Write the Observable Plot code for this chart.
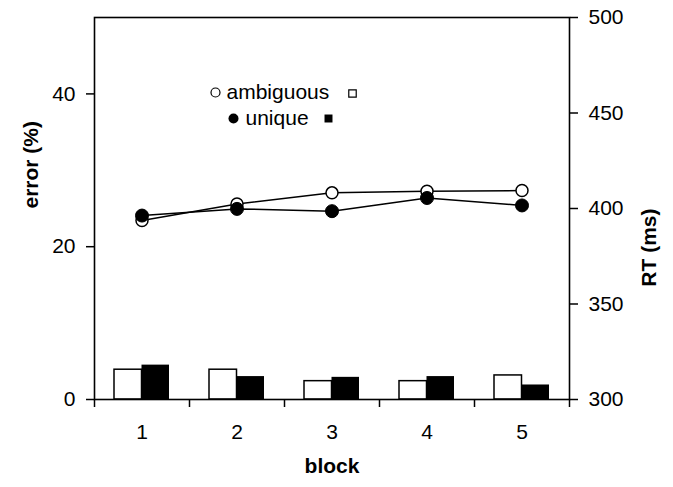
<!DOCTYPE html>
<html><head><meta charset="utf-8">
<script src="https://cdn.jsdelivr.net/npm/d3@7"></script>
<script src="https://cdn.jsdelivr.net/npm/@observablehq/plot@0.6"></script>
<style>body{margin:0;background:#fff}</style>
</head><body><div id="chart"></div>
<script>
const blocks = [1, 2, 3, 4, 5];
const errorAmbiguous = [3.9, 3.9, 2.4, 2.4, 3.15];
const errorUnique = [4.5, 3.0, 2.9, 3.0, 1.9];
const rtAmbiguous = [393.7, 402.4, 408.2, 409.0, 409.4];
const rtUnique = [396.3, 399.8, 398.6, 405.5, 401.6];
const errorTicks = [0, 20, 40];
const rtTicks = [300, 350, 400, 450, 500];
const errorDomain = [0, 50];
const rtDomain = [300, 500];
const legendLabels = ["ambiguous", "unique"];
const xTitle = "block", yTitleLeft = "error (%)", yTitleRight = "RT (ms)";

const rtToErr = d3.scaleLinear().domain(rtDomain).range(errorDomain);
const rows = blocks.map((b, i) => ({
  block: b, errA: errorAmbiguous[i], errU: errorUnique[i], rtA: rtAmbiguous[i], rtU: rtUnique[i]
}));

const font = "'Liberation Sans', Arial, sans-serif";
const FS = 21;
const plot = Plot.plot({
  width: 673, height: 487,
  marginLeft: 94, marginRight: 104, marginTop: 17, marginBottom: 88,
  style: {fontFamily: font, fontSize: FS + "px", color: "#000", background: "#fff"},
  x: {type: "band", domain: blocks, padding: 0},
  y: {domain: errorDomain},
  marks: [
    Plot.barY(rows, {x: "block", y: "errA", fill: "white", stroke: "black", strokeWidth: 1.5, insetLeft: 20, insetRight: 47.5}),
    Plot.barY(rows, {x: "block", y: "errU", fill: "black", insetLeft: 47.5, insetRight: 20}),
    Plot.frame({stroke: "black", strokeWidth: 1.6}),
    Plot.axisY({ticks: errorTicks, tickSize: 8, tickPadding: 11, strokeWidth: 1.5, label: null}),
    Plot.axisY({anchor: "right", ticks: rtTicks.map(rtToErr), tickFormat: d => Math.round(rtToErr.invert(d)), tickSize: 8, tickPadding: 11, strokeWidth: 1.5, label: null}),
    Plot.axisX({tickSize: 8, dx: -47.5, strokeWidth: 1.5, tickFormat: () => "", label: null}),
    Plot.axisX({ticks: [5], tickSize: 8, dx: 47.5, strokeWidth: 1.5, tickFormat: () => "", label: null}),
    Plot.axisX({tickSize: 0, tickPadding: 25, label: null}),
    Plot.line(rows, {x: "block", y: d => rtToErr(d.rtA), stroke: "black", strokeWidth: 1.5}),
    Plot.dot(rows, {x: "block", y: d => rtToErr(d.rtA), r: 6, fill: "white", stroke: "black", strokeWidth: 1.5}),
    Plot.line(rows, {x: "block", y: d => rtToErr(d.rtU), stroke: "black", strokeWidth: 1.5}),
    Plot.dot(rows, {x: "block", y: d => rtToErr(d.rtU), r: 6.5, fill: "black", stroke: "black", strokeWidth: 1}),
    // legend
    Plot.dot([0], {frameAnchor: "top-left", dx: 121, dy: 75, r: 4.5, fill: "white", stroke: "black", strokeWidth: 1.2}),
    Plot.text([legendLabels[0]], {text: d => d, frameAnchor: "top-left", dx: 132, dy: 75, textAnchor: "start", lineAnchor: "middle", fontSize: FS}),
    Plot.dot([0], {frameAnchor: "top-left", dx: 258, dy: 76, r: 4.2, symbol: "square", fill: "white", stroke: "black", strokeWidth: 1.2}),
    Plot.dot([0], {frameAnchor: "top-left", dx: 139, dy: 101, r: 5, fill: "black"}),
    Plot.text([legendLabels[1]], {text: d => d, frameAnchor: "top-left", dx: 151, dy: 101, textAnchor: "start", lineAnchor: "middle", fontSize: FS}),
    Plot.dot([0], {frameAnchor: "top-left", dx: 234, dy: 101, r: 4.5, symbol: "square", fill: "black"}),
    // titles
    Plot.text([yTitleLeft], {text: d => d, frameAnchor: "left", dx: -63, rotate: -90, fontWeight: "bold", fontSize: FS}),
    Plot.text([yTitleRight], {text: d => d, frameAnchor: "right", dx: 80, rotate: -90, fontWeight: "bold", fontSize: FS}),
    Plot.text([xTitle], {text: d => d, frameAnchor: "bottom", dy: 73, fontWeight: "bold", fontSize: FS})
  ]
});
document.getElementById("chart").appendChild(plot);
</script>
</body></html>
